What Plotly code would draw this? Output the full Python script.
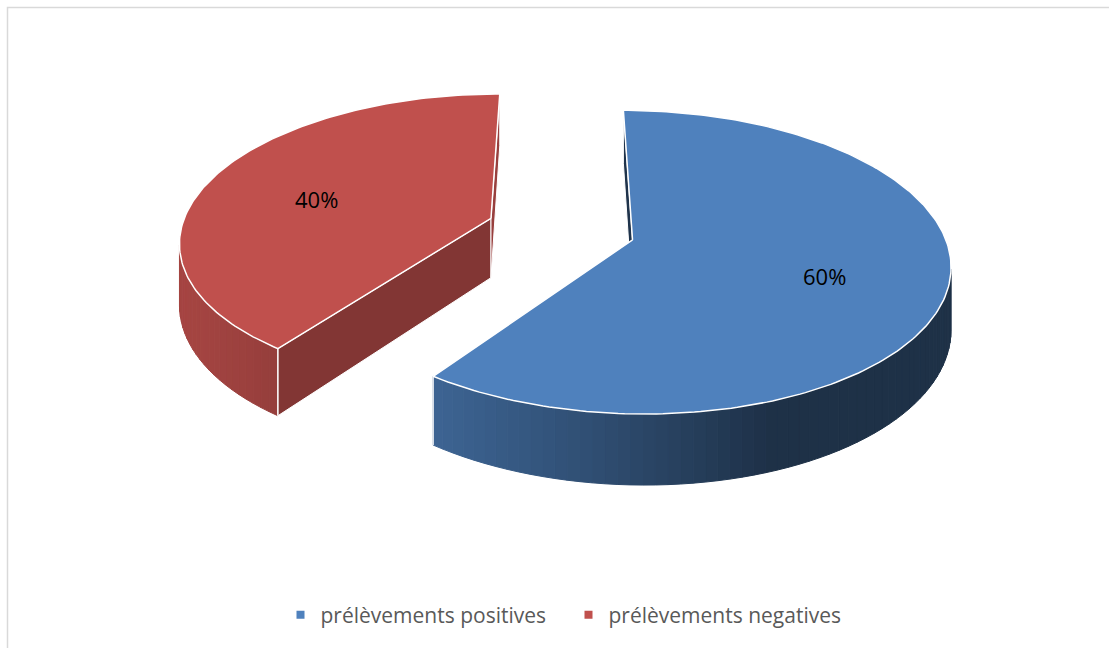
import numpy as np
import plotly.graph_objects as go

# ---- data ----
categories = ["prélèvements positives", "prélèvements negatives"]
values = [60, 40]
colors = ["#4F81BD", "#C0504D"]

# ---- 3D pie geometry (pixel space of the canvas) ----
W, H = 1109, 648
CX, CY = 561.0, 229.0        # projected centre of the (unexploded) pie
RX, RY = 310.0, 145.4        # horizontal / foreshortened radii
PERSP = 0.145                # perspective strength along depth
DEPTH = 60.0                 # slice thickness
EXPLODE = 0.24               # explode distance (fraction of radius)
LABEL_POS = 0.62             # label distance from apex (fraction of radius)


def project(u, v, d):
    """u: right, v: away from viewer (unit radius), d: 0 top face, 1 bottom."""
    w = 1.0 + PERSP * v
    return CX + RX * u / w, CY + (-RY * v + DEPTH * d) / w


def hex_rgb(h):
    h = h.lstrip("#")
    return np.array([int(h[i:i + 2], 16) for i in (0, 2, 4)], float)


def shade(base, f):
    c = np.clip(hex_rgb(base) * f, 0, 255).astype(int)
    return f"rgb({c[0]},{c[1]},{c[2]})"


def area(xs, ys):
    xs, ys = np.asarray(xs), np.asarray(ys)
    return 0.5 * np.sum(xs * np.roll(ys, -1) - np.roll(xs, -1) * ys)


def wall_factor(theta):
    return 0.38 + 0.48 * max(0.0, np.cos(np.radians(theta - 250)))


def side_factor(normal):
    return 0.40 + 0.40 * max(0.0, np.cos(np.radians(normal - 80)))


fig = go.Figure()
total = sum(values)
start = 0.0
tops, labels = [], []

for name, val, col in zip(categories, values, colors):
    span = 360.0 * val / total
    a0, a1 = start, start + span
    mid = np.radians((a0 + a1) / 2)
    ou, ov = EXPLODE * np.sin(mid), EXPLODE * np.cos(mid)

    def rim(theta, d):
        t = np.radians(theta)
        return project(ou + np.sin(t), ov + np.cos(t), d)

    apex_t = project(ou, ov, 0)
    apex_b = project(ou, ov, 1)

    # outer curved wall, drawn as shaded strips (only those facing the viewer)
    steps = np.linspace(a0, a1, int(span // 2) + 2)
    vis = []
    for t0, t1 in zip(steps[:-1], steps[1:]):
        p = [rim(t0, 0), rim(t1, 0), rim(t1, 1), rim(t0, 1)]
        xs, ys = [q[0] for q in p], [q[1] for q in p]
        ok = area(xs, ys) < 0
        vis.append(ok)
        if not ok:
            continue
        c = shade(col, wall_factor((t0 + t1) / 2))
        fig.add_trace(go.Scatter(
            x=xs + [xs[0]], y=ys + [ys[0]], mode="lines", fill="toself",
            fillcolor=c, line=dict(color=c, width=1),
            hoverinfo="skip", showlegend=False))

    # radial faces of the slice
    for theta, normal, sign in ((a0, a0 - 90, -1), (a1, a1 + 90, 1)):
        rt, rb = rim(theta, 0), rim(theta, 1)
        p = [apex_t, rt, rb, apex_b]
        xs, ys = [q[0] for q in p], [q[1] for q in p]
        if area(xs, ys) * sign <= 0:
            continue
        fig.add_trace(go.Scatter(
            x=xs + [xs[0]], y=ys + [ys[0]], mode="lines", fill="toself",
            fillcolor=shade(col, side_factor(normal)),
            line=dict(color="white", width=1),
            hoverinfo="skip", showlegend=False))

    # vertical edges where the visible wall ends
    for theta, ok in ((a0, vis[0]), (a1, vis[-1])):
        if ok:
            rt, rb = rim(theta, 0), rim(theta, 1)
            fig.add_trace(go.Scatter(
                x=[rt[0], rb[0]], y=[rt[1], rb[1]], mode="lines",
                line=dict(color="white", width=1.2),
                hoverinfo="skip", showlegend=False))

    # top face
    arc = np.linspace(a0, a1, int(span) + 2)
    pts = [apex_t] + [rim(t, 0) for t in arc] + [apex_t]
    tops.append(go.Scatter(
        x=[q[0] for q in pts], y=[q[1] for q in pts], mode="lines",
        fill="toself", fillcolor=col, line=dict(color="white", width=1.5),
        hoverinfo="skip", showlegend=False))

    lx, ly = project(ou + LABEL_POS * np.sin(mid), ov + LABEL_POS * np.cos(mid), 0)
    labels.append((lx, ly, f"{val / total * 100:.0f}%"))
    start = a1

for t in tops:
    fig.add_trace(t)

# legend entries
for name, col in zip(categories, colors):
    fig.add_trace(go.Scatter(
        x=[None], y=[None], mode="markers", name=name,
        marker=dict(symbol="square", size=8, color=col)))

for lx, ly, txt in labels:
    fig.add_annotation(x=lx, y=ly, text=txt, showarrow=False, yshift=-7,
                       font=dict(family="Open Sans", size=22, color="black"))

# chart frame
fig.add_shape(type="rect", xref="x", yref="y", x0=7.5, y0=7.5, x1=W + 20, y1=H + 20,
              line=dict(color="#D9D9D9", width=1.5), fillcolor="rgba(0,0,0,0)")

fig.update_layout(
    width=W, height=H,
    margin=dict(l=0, r=0, t=0, b=0),
    paper_bgcolor="white", plot_bgcolor="white",
    xaxis=dict(range=[0, W], visible=False, fixedrange=True),
    yaxis=dict(range=[H, 0], visible=False, fixedrange=True),
    showlegend=True,
    legend=dict(orientation="h", x=0.5 + 14 / W, xanchor="center", y=1 - 615 / H,
                yanchor="middle", font=dict(family="Open Sans", size=21, color="#595959"),
                entrywidth=243, entrywidthmode="pixels", itemclick=False,
                itemdoubleclick=False),
)

fig.write_html("out.html")
